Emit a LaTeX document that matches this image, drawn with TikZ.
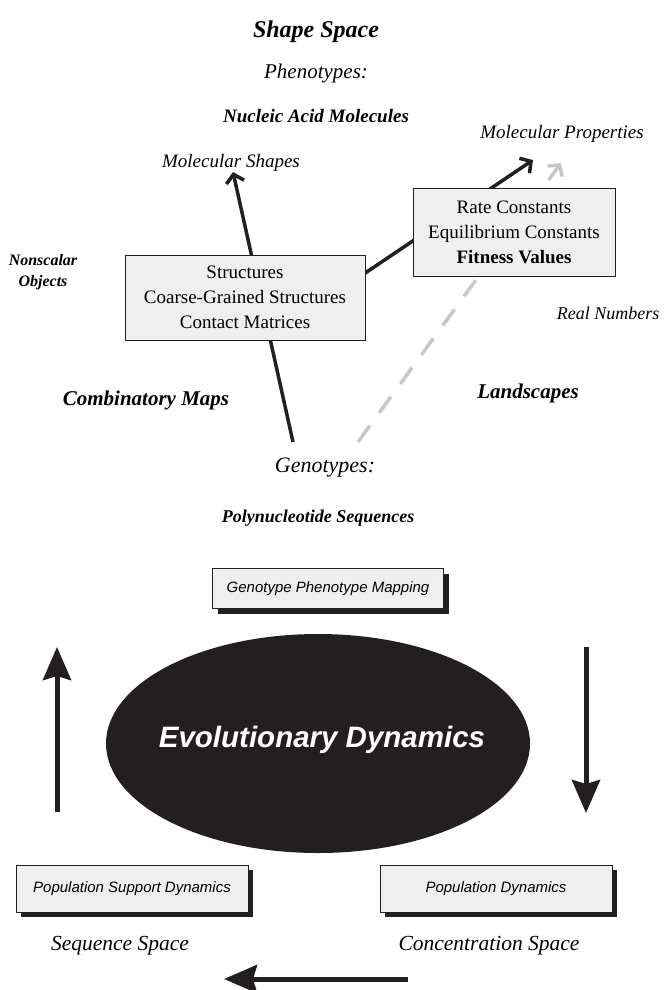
\documentclass[tikz,border=0pt]{standalone}
\usepackage{fontspec}
\setmainfont{Liberation Serif}
\setsansfont{Liberation Sans}
\usetikzlibrary{arrows.meta,shadows,shapes.geometric}
\definecolor{ink}{HTML}{231F20}
\definecolor{panel}{HTML}{EFEFEF}

\begin{document}
\begin{tikzpicture}[x=1pt,y=-1pt,
  it/.style={inner sep=0pt, font=\itshape\fontsize{#1}{#1}\selectfont},
  bit/.style={inner sep=0pt, align=center, font=\bfseries\itshape\fontsize{#1}{#1}\selectfont},
  infobox/.style={draw=ink, fill=panel, line width=0.8pt, align=center,
    inner sep=0pt, font=\fontsize{19}{25}\selectfont},
  shadowbox/.style={draw=ink, fill=panel, line width=0.8pt, inner sep=0pt,
    font=\sffamily\itshape\fontsize{15}{15}\selectfont,
    drop shadow={shadow xshift=5pt, shadow yshift=-5pt, fill=ink, opacity=1}},
  barb/.style={line width=3.5pt, -{Straight Barb[length=8pt, width=18pt]}},
  bigarrow/.style={draw=ink, line width=5pt, -{Stealth[length=33pt, width=28pt, inset=4pt, fill=ink]}}]

\useasboundingbox (0,0) rectangle (664,990);

% ---- shape space: labels ----
\node[bit=24] (shape) at (316,32) {Shape Space};
\node[it=21] (pheno) at (316,73) {Phenotypes:};
\node[bit=19] (nucl) at (316,116) {Nucleic Acid Molecules};
\node[it=19] (mshapes) at (231,163) {Molecular Shapes};
\node[it=19] (mprops) at (562,134) {Molecular Properties};
\node[bit=16, font=\bfseries\itshape\fontsize{16}{21}\selectfont] (nonscalar) at (43,272) {Nonscalar\\Objects};
\node[it=18] (realnum) at (608,313) {Real Numbers};
\node[bit=21] (combmaps) at (146,400) {Combinatory Maps};
\node[bit=21] (landsc) at (528,393) {Landscapes};
\node[it=22] (geno) at (325,468) {Genotypes:};
\node[bit=18] (polyseq) at (318,518) {Polynucleotide Sequences};

% ---- connector end points ----
\coordinate (genoL) at (293,442);
\coordinate (genoR) at (358,442);
\coordinate (shapeTip) at (233,172);
\coordinate (propTip) at (533,160);
\coordinate (landTip) at (561,163);
\coordinate (structIn) at (340,290);

% maps, drawn first so the boxes cover them
\draw[barb, draw=ink] (genoL) -- (shapeTip);
\draw[barb, draw=ink] (structIn) -- (propTip);
\draw[barb, draw=black!22, dash pattern=on 20pt off 16pt] (genoR) -- (landTip);

\node[infobox, minimum width=240pt, minimum height=85pt] (struct) at (245,297.5)
  {Structures\\Coarse-Grained Structures\\Contact Matrices};
\node[infobox, minimum width=202pt, minimum height=88pt] (values) at (514,232)
  {Rate Constants\\Equilibrium Constants\\\textbf{Fitness Values}};

% ---- evolutionary dynamics cycle ----
\node[shadowbox, minimum width=231pt, minimum height=40pt] (gpm) at (328,588.5)
  {Genotype Phenotype Mapping};

\node[ellipse, fill=ink, inner sep=0pt, minimum width=424pt, minimum height=219pt] (evo) at (318,743.5) {};
\node[text=white, inner sep=0pt, font=\sffamily\bfseries\itshape\fontsize{29.5}{29.5}\selectfont]
  (evotext) at (322,740) {Evolutionary Dynamics};

\node[shadowbox, minimum width=232pt, minimum height=47pt] (psd) at (132,888.5)
  {Population Support Dynamics};
\node[shadowbox, minimum width=232pt, minimum height=47pt] (pd) at (496,888.5)
  {Population Dynamics};

\node[it=21.5] (seqsp) at (120,946) {Sequence Space};
\node[it=21.5] (concsp) at (489,946) {Concentration Space};

\coordinate (upA) at (57,812);
\coordinate (upB) at (57,647);
\coordinate (downA) at (586,647);
\coordinate (downB) at (586,813);
\coordinate (backA) at (408,979);
\coordinate (backB) at (224,979);

\draw[bigarrow] (upA) -- (upB);
\draw[bigarrow] (downA) -- (downB);
\draw[bigarrow] (backA) -- (backB);
\end{tikzpicture}
\end{document}
